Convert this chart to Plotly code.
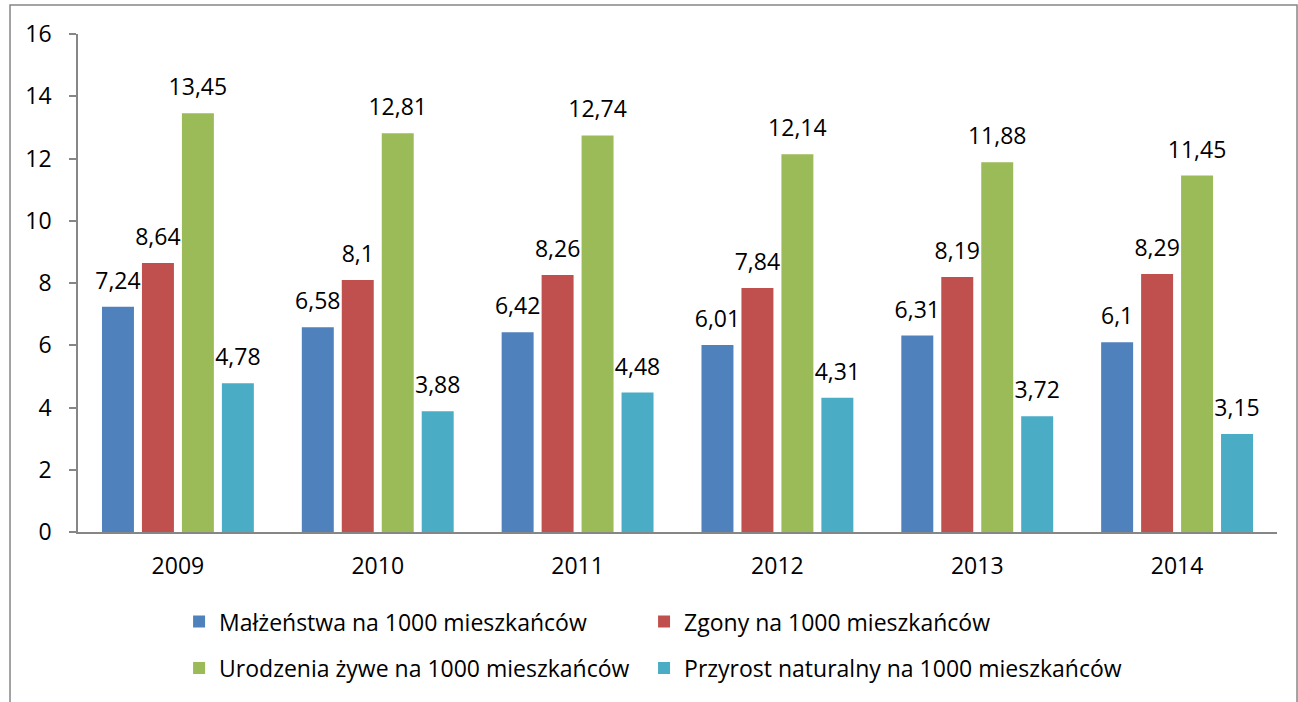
import plotly.graph_objects as go

years = ["2009", "2010", "2011", "2012", "2013", "2014"]
series_names = [
    "Małżeństwa na 1000 mieszkańców",
    "Zgony na 1000 mieszkańców",
    "Urodzenia żywe na 1000 mieszkańców",
    "Przyrost naturalny na 1000 mieszkańców",
]
malzenstwa = [7.24, 6.58, 6.42, 6.01, 6.31, 6.10]
zgony = [8.64, 8.10, 8.26, 7.84, 8.19, 8.29]
urodzenia = [13.45, 12.81, 12.74, 12.14, 11.88, 11.45]
przyrost = [4.78, 3.88, 4.48, 4.31, 3.72, 3.15]
colors = ["#4F81BD", "#C0504D", "#9BBB59", "#4BACC6"]
y_ticks = [0, 2, 4, 6, 8, 10, 12, 14, 16]

FONT = "Open Sans"
FS = 23

def fmt(v):
    return f"{v:g}".replace(".", ",")

legend_ids = ["legend", "legend2", "legend3", "legend4"]
legend_pos = [(0.0843, -0.18), (0.4721, -0.18), (0.0843, -0.273), (0.4721, -0.273)]

fig = go.Figure()
all_series = [malzenstwa, zgony, urodzenia, przyrost]
for i, (name, vals) in enumerate(zip(series_names, all_series)):
    fig.add_trace(go.Bar(
        x=years, y=vals, name=name, marker=dict(color=colors[i], line=dict(width=0)),
        offsetgroup=str(i), legend=legend_ids[i], hoverinfo="skip",
    ))
for i, vals in enumerate(all_series):
    fig.add_trace(go.Scatter(
        x=years, y=vals, mode="markers+text", text=[fmt(v) for v in vals],
        textposition="top center", textfont=dict(family=FONT, size=FS, color="#000"),
        marker=dict(size=18, opacity=0), offsetgroup=str(i), showlegend=False,
        hoverinfo="skip", cliponaxis=False,
    ))

legends = {}
for lid, (lx, ly) in zip(legend_ids, legend_pos):
    legends[lid] = dict(orientation="h", x=lx, xanchor="left", y=ly, yanchor="middle",
                        font=dict(family=FONT, size=FS), bgcolor="rgba(0,0,0,0)")

fig.update_layout(
    width=1298, height=702,
    margin=dict(l=78, r=21, t=34, b=170),
    paper_bgcolor="white", plot_bgcolor="white",
    barmode="group", bargap=0.2, bargroupgap=0.2,
    scattermode="group", scattergap=0.2,
    font=dict(family=FONT, size=FS, color="#000"),
    xaxis=dict(showline=True, linecolor="#868686", linewidth=1.5, ticks="",
               showgrid=False, ticklabelstandoff=13),
    yaxis=dict(range=[0, 16], tickvals=y_ticks, showline=True, linecolor="#868686",
               linewidth=1.5, ticks="outside", ticklen=7, tickcolor="#868686",
               tickwidth=1.5, showgrid=False, zeroline=False, ticklabelstandoff=13),
    shapes=[dict(type="rect", xref="paper", yref="paper", x0=-0.0567, x1=1.0167,
                 y0=-0.5, y1=1.0582, line=dict(color="#868686", width=1.5),
                 layer="below")],
    **legends,
)

fig.write_html(
    "out.html",
    config={"displayModeBar": False},
    post_script="document.body.style.margin='0';document.body.style.overflow='hidden';",
)
